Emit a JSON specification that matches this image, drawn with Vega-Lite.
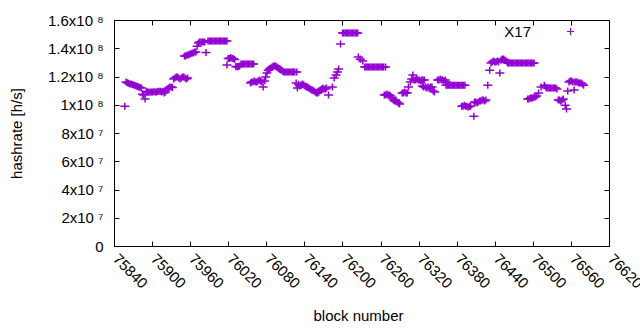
{
"$schema": "https://vega.github.io/schema/vega-lite/v6.json",
"width": 495, "height": 226,
"autosize": {"type": "none"},
"padding": {"left": 114, "top": 20, "right": 31, "bottom": 84},
"background": "white",
"config": {"view": {"stroke": "black", "strokeWidth": 1}, "font": "Liberation Sans"},
"data": {"values": [
{"block":75857,"hashrate":99000000},
{"block":75859,"hashrate":116100000},{"block":75861,"hashrate":115600000},{"block":75863,"hashrate":115200000},{"block":75865,"hashrate":114700000},{"block":75867,"hashrate":114700000},{"block":75869,"hashrate":114400000},{"block":75871,"hashrate":114000000},{"block":75873,"hashrate":113600000},{"block":75875,"hashrate":113300000},{"block":75877,"hashrate":112900000},{"block":75879,"hashrate":112600000},{"block":75881,"hashrate":112200000},{"block":75883,"hashrate":111900000},
{"block":75885,"hashrate":107500000},{"block":75887,"hashrate":106900000},{"block":75889,"hashrate":104100000},
{"block":75891,"hashrate":109500000},{"block":75893,"hashrate":109000000},{"block":75895,"hashrate":109000000},{"block":75897,"hashrate":108800000},{"block":75899,"hashrate":109000000},{"block":75901,"hashrate":109000000},{"block":75903,"hashrate":109200000},{"block":75905,"hashrate":109000000},{"block":75907,"hashrate":109000000},{"block":75909,"hashrate":109400000},{"block":75911,"hashrate":109500000},{"block":75913,"hashrate":109500000},{"block":75915,"hashrate":109000000},{"block":75917,"hashrate":109500000},{"block":75919,"hashrate":108300000},{"block":75921,"hashrate":109000000},
{"block":75924,"hashrate":111200000},{"block":75926,"hashrate":111900000},{"block":75928,"hashrate":112600000},{"block":75930,"hashrate":112600000},{"block":75932,"hashrate":112200000},
{"block":75934,"hashrate":118200000},{"block":75936,"hashrate":118900000},{"block":75938,"hashrate":119600000},{"block":75940,"hashrate":119600000},{"block":75942,"hashrate":118900000},{"block":75944,"hashrate":118200000},{"block":75946,"hashrate":118900000},{"block":75948,"hashrate":119600000},{"block":75950,"hashrate":119600000},{"block":75952,"hashrate":118900000},{"block":75954,"hashrate":118200000},{"block":75956,"hashrate":118900000},
{"block":75951,"hashrate":134500000},{"block":75953,"hashrate":134500000},{"block":75955,"hashrate":135200000},{"block":75957,"hashrate":135200000},{"block":75959,"hashrate":135900000},{"block":75961,"hashrate":135900000},{"block":75963,"hashrate":136600000},{"block":75965,"hashrate":136600000},{"block":75967,"hashrate":137300000},{"block":75969,"hashrate":137300000},
{"block":75971,"hashrate":141500000},
{"block":75973,"hashrate":143700000},{"block":75975,"hashrate":144400000},{"block":75977,"hashrate":144400000},{"block":75979,"hashrate":144400000},{"block":75981,"hashrate":144400000},{"block":75983,"hashrate":144400000},
{"block":75985,"hashrate":137000000},
{"block":75988,"hashrate":145100000},{"block":75990,"hashrate":145100000},{"block":75992,"hashrate":145100000},{"block":75994,"hashrate":145100000},{"block":75996,"hashrate":145100000},{"block":75998,"hashrate":145100000},{"block":76000,"hashrate":145100000},{"block":76002,"hashrate":145100000},{"block":76004,"hashrate":145100000},{"block":76006,"hashrate":145100000},{"block":76008,"hashrate":145100000},{"block":76010,"hashrate":145100000},{"block":76012,"hashrate":145100000},{"block":76014,"hashrate":145100000},{"block":76016,"hashrate":145100000},{"block":76018,"hashrate":145100000},
{"block":76018,"hashrate":128100000},{"block":76020,"hashrate":132700000},{"block":76022,"hashrate":132700000},{"block":76024,"hashrate":133400000},{"block":76026,"hashrate":132700000},{"block":76028,"hashrate":132700000},{"block":76030,"hashrate":132000000},
{"block":76032,"hashrate":127000000},{"block":76034,"hashrate":126700000},{"block":76036,"hashrate":127000000},{"block":76038,"hashrate":127400000},
{"block":76040,"hashrate":128800000},{"block":76042,"hashrate":128800000},{"block":76044,"hashrate":128800000},{"block":76046,"hashrate":128800000},{"block":76048,"hashrate":128800000},{"block":76050,"hashrate":128800000},{"block":76052,"hashrate":128800000},{"block":76054,"hashrate":128800000},{"block":76056,"hashrate":128800000},{"block":76058,"hashrate":128800000},{"block":76060,"hashrate":128800000},
{"block":76055,"hashrate":115400000},{"block":76057,"hashrate":116100000},{"block":76059,"hashrate":116100000},{"block":76061,"hashrate":116800000},{"block":76063,"hashrate":116100000},{"block":76065,"hashrate":116100000},{"block":76067,"hashrate":116800000},{"block":76069,"hashrate":117500000},{"block":76071,"hashrate":116800000},{"block":76073,"hashrate":116100000},{"block":76075,"hashrate":112600000},{"block":76077,"hashrate":116800000},{"block":76079,"hashrate":119600000},{"block":76081,"hashrate":122500000},{"block":76083,"hashrate":124500000},
{"block":76085,"hashrate":125300000},{"block":76087,"hashrate":126000000},{"block":76089,"hashrate":126700000},{"block":76091,"hashrate":127400000},{"block":76093,"hashrate":127400000},{"block":76095,"hashrate":127400000},{"block":76097,"hashrate":126700000},{"block":76099,"hashrate":126000000},{"block":76101,"hashrate":125300000},{"block":76103,"hashrate":124600000},{"block":76105,"hashrate":123900000},
{"block":76107,"hashrate":123200000},{"block":76109,"hashrate":123200000},{"block":76111,"hashrate":123200000},{"block":76113,"hashrate":123200000},{"block":76115,"hashrate":123200000},{"block":76117,"hashrate":123200000},{"block":76119,"hashrate":123200000},{"block":76121,"hashrate":123200000},{"block":76123,"hashrate":123200000},{"block":76125,"hashrate":123200000},{"block":76128,"hashrate":123200000},
{"block":76127,"hashrate":115400000},{"block":76129,"hashrate":111900000},{"block":76131,"hashrate":114500000},{"block":76133,"hashrate":113300000},{"block":76135,"hashrate":114000000},{"block":76137,"hashrate":114700000},{"block":76139,"hashrate":114000000},{"block":76141,"hashrate":113300000},{"block":76143,"hashrate":112600000},{"block":76145,"hashrate":112600000},{"block":76147,"hashrate":111900000},{"block":76149,"hashrate":111200000},{"block":76151,"hashrate":110500000},{"block":76153,"hashrate":110500000},{"block":76155,"hashrate":109800000},{"block":76157,"hashrate":109000000},{"block":76159,"hashrate":108300000},{"block":76161,"hashrate":108300000},{"block":76163,"hashrate":109000000},{"block":76165,"hashrate":110500000},{"block":76167,"hashrate":111200000},{"block":76169,"hashrate":111900000},{"block":76171,"hashrate":111200000},{"block":76173,"hashrate":111200000},{"block":76175,"hashrate":111900000},{"block":76178,"hashrate":106900000},{"block":76184,"hashrate":112600000},{"block":76187,"hashrate":118900000},{"block":76190,"hashrate":121000000},{"block":76192,"hashrate":123200000},{"block":76194,"hashrate":125300000},{"block":76197,"hashrate":143000000},
{"block":76200,"hashrate":150800000},{"block":76202,"hashrate":150800000},{"block":76204,"hashrate":150800000},{"block":76206,"hashrate":150800000},{"block":76208,"hashrate":150800000},{"block":76210,"hashrate":150800000},{"block":76212,"hashrate":150800000},{"block":76214,"hashrate":150800000},{"block":76216,"hashrate":150800000},{"block":76218,"hashrate":150800000},{"block":76220,"hashrate":150800000},{"block":76222,"hashrate":150800000},{"block":76224,"hashrate":150800000},
{"block":76225,"hashrate":133800000},{"block":76228,"hashrate":132300000},{"block":76232,"hashrate":130900000},
{"block":76235,"hashrate":126700000},{"block":76237,"hashrate":126700000},{"block":76239,"hashrate":126700000},{"block":76241,"hashrate":126700000},{"block":76243,"hashrate":126700000},{"block":76245,"hashrate":126700000},{"block":76247,"hashrate":126700000},{"block":76249,"hashrate":126700000},{"block":76251,"hashrate":126700000},{"block":76253,"hashrate":126700000},{"block":76255,"hashrate":126700000},{"block":76257,"hashrate":126700000},{"block":76259,"hashrate":126700000},{"block":76261,"hashrate":126700000},{"block":76263,"hashrate":126700000},{"block":76265,"hashrate":126700000},{"block":76268,"hashrate":126700000},
{"block":76266,"hashrate":106900000},{"block":76268,"hashrate":106900000},{"block":76270,"hashrate":107600000},{"block":76272,"hashrate":106900000},{"block":76274,"hashrate":106900000},{"block":76276,"hashrate":106200000},{"block":76278,"hashrate":104800000},{"block":76280,"hashrate":103400000},{"block":76282,"hashrate":102700000},{"block":76284,"hashrate":103400000},{"block":76286,"hashrate":102000000},{"block":76288,"hashrate":101300000},{"block":76290,"hashrate":100500000},{"block":76294,"hashrate":108300000},{"block":76296,"hashrate":108300000},{"block":76298,"hashrate":109000000},{"block":76300,"hashrate":108300000},{"block":76302,"hashrate":108300000},{"block":76304,"hashrate":112600000},{"block":76307,"hashrate":116100000},{"block":76309,"hashrate":118200000},{"block":76311,"hashrate":121000000},
{"block":76313,"hashrate":117500000},{"block":76315,"hashrate":117500000},{"block":76317,"hashrate":118200000},{"block":76319,"hashrate":117500000},{"block":76321,"hashrate":117500000},{"block":76323,"hashrate":116800000},{"block":76325,"hashrate":117500000},{"block":76327,"hashrate":117500000},{"block":76329,"hashrate":117500000},
{"block":76326,"hashrate":113300000},{"block":76328,"hashrate":112600000},{"block":76331,"hashrate":112600000},{"block":76333,"hashrate":111900000},{"block":76335,"hashrate":112600000},{"block":76337,"hashrate":111900000},{"block":76339,"hashrate":112600000},{"block":76341,"hashrate":112600000},{"block":76343,"hashrate":109800000},{"block":76345,"hashrate":109000000},
{"block":76350,"hashrate":117500000},{"block":76352,"hashrate":117500000},{"block":76354,"hashrate":118200000},{"block":76356,"hashrate":117500000},{"block":76358,"hashrate":117500000},{"block":76360,"hashrate":116800000},{"block":76362,"hashrate":117500000},{"block":76364,"hashrate":116100000},
{"block":76363,"hashrate":113800000},{"block":76365,"hashrate":113800000},{"block":76367,"hashrate":113800000},{"block":76369,"hashrate":113800000},{"block":76371,"hashrate":113800000},{"block":76373,"hashrate":113800000},{"block":76375,"hashrate":113800000},{"block":76377,"hashrate":113800000},{"block":76379,"hashrate":113800000},{"block":76381,"hashrate":113800000},{"block":76383,"hashrate":113800000},{"block":76385,"hashrate":113800000},{"block":76387,"hashrate":113800000},{"block":76389,"hashrate":113800000},{"block":76391,"hashrate":113800000},{"block":76393,"hashrate":113800000},
{"block":76388,"hashrate":99000000},{"block":76390,"hashrate":99000000},{"block":76392,"hashrate":99700000},{"block":76394,"hashrate":99000000},{"block":76396,"hashrate":99000000},{"block":76398,"hashrate":98300000},{"block":76400,"hashrate":99000000},{"block":76402,"hashrate":99000000},{"block":76407,"hashrate":91900000},
{"block":76408,"hashrate":101900000},{"block":76410,"hashrate":101900000},{"block":76412,"hashrate":101200000},{"block":76414,"hashrate":101900000},{"block":76416,"hashrate":102600000},{"block":76418,"hashrate":102600000},{"block":76420,"hashrate":103400000},{"block":76422,"hashrate":103400000},{"block":76424,"hashrate":102600000},{"block":76426,"hashrate":103400000},{"block":76429,"hashrate":113800000},{"block":76432,"hashrate":124500000},
{"block":76434,"hashrate":129500000},{"block":76436,"hashrate":130200000},{"block":76438,"hashrate":130900000},{"block":76440,"hashrate":130200000},{"block":76442,"hashrate":130200000},{"block":76444,"hashrate":130900000},{"block":76446,"hashrate":130200000},{"block":76448,"hashrate":122500000},{"block":76450,"hashrate":131600000},{"block":76452,"hashrate":132300000},{"block":76454,"hashrate":132300000},{"block":76456,"hashrate":131600000},{"block":76458,"hashrate":130900000},
{"block":76460,"hashrate":129500000},{"block":76462,"hashrate":129500000},{"block":76464,"hashrate":129500000},{"block":76466,"hashrate":129500000},{"block":76468,"hashrate":129500000},{"block":76470,"hashrate":129500000},{"block":76472,"hashrate":129500000},{"block":76474,"hashrate":129500000},{"block":76476,"hashrate":129500000},{"block":76478,"hashrate":129500000},{"block":76480,"hashrate":129500000},{"block":76482,"hashrate":129500000},{"block":76484,"hashrate":129500000},{"block":76486,"hashrate":129500000},{"block":76488,"hashrate":129500000},{"block":76490,"hashrate":129500000},{"block":76492,"hashrate":129500000},{"block":76494,"hashrate":129500000},{"block":76496,"hashrate":129500000},{"block":76498,"hashrate":129500000},{"block":76500,"hashrate":129500000},{"block":76502,"hashrate":129500000},
{"block":76492,"hashrate":104100000},{"block":76494,"hashrate":104100000},{"block":76496,"hashrate":104800000},{"block":76498,"hashrate":104800000},{"block":76500,"hashrate":104800000},{"block":76502,"hashrate":105500000},{"block":76504,"hashrate":105500000},{"block":76506,"hashrate":106200000},{"block":76509,"hashrate":108300000},{"block":76513,"hashrate":112600000},
{"block":76518,"hashrate":113800000},{"block":76520,"hashrate":112600000},{"block":76522,"hashrate":111900000},{"block":76524,"hashrate":111900000},{"block":76526,"hashrate":111900000},{"block":76528,"hashrate":111900000},{"block":76530,"hashrate":111900000},{"block":76532,"hashrate":111900000},{"block":76534,"hashrate":111900000},{"block":76536,"hashrate":111900000},{"block":76538,"hashrate":111200000},
{"block":76540,"hashrate":103400000},{"block":76542,"hashrate":103400000},{"block":76544,"hashrate":102700000},{"block":76546,"hashrate":103400000},{"block":76548,"hashrate":104100000},{"block":76551,"hashrate":99700000},{"block":76553,"hashrate":97000000},{"block":76555,"hashrate":109700000},
{"block":76557,"hashrate":116100000},{"block":76559,"hashrate":116800000},{"block":76561,"hashrate":116800000},{"block":76563,"hashrate":116100000},{"block":76565,"hashrate":110500000},{"block":76566,"hashrate":116100000},{"block":76568,"hashrate":116100000},{"block":76570,"hashrate":116100000},{"block":76572,"hashrate":115400000},{"block":76574,"hashrate":115400000},{"block":76576,"hashrate":115400000},{"block":76578,"hashrate":114700000},{"block":76580,"hashrate":113800000}
]},
"layer": [
{
"mark": {"type": "point", "shape": "M-1,0H1M0,-0.78V0.78", "filled": false, "size": 81, "strokeWidth": 1.5, "opacity": 1},
"encoding": {
"x": {"field": "block", "type": "quantitative",
"scale": {"domain": [75840, 76620], "nice": false, "zero": false},
"axis": {"orient": "bottom", "values": [75840,75900,75960,76020,76080,76140,76200,76260,76320,76380,76440,76500,76560,76620],
"grid": false, "domain": false, "tickSize": -5, "tickColor": "black", "labelAngle": 45, "labelAlign": "left", "labelBaseline": "top",
"labelPadding": 10, "labelOffset": 6, "labelFontSize": 15, "labelColor": "black", "labelFlush": false, "labelOverlap": false, "labelBound": false, "format": "d",
"title": "block number", "titleFontSize": 15, "titleFontWeight": "normal", "titleColor": "black", "titleX": 244, "titleY": 69, "titleBaseline": "middle", "titleAlign": "center"}},
"y": {"field": "hashrate", "type": "quantitative",
"scale": {"domain": [0, 160000000], "nice": false},
"axis": {"orient": "left", "values": [0,20000000,40000000,60000000,80000000,100000000,120000000,140000000,160000000],
"grid": false, "domain": false, "tickSize": -5, "tickColor": "black",
"labelExpr": "datum.value == 0 ? '0' : (datum.value >= 99999999 ? format(datum.value/1e8, '~g') + 'x10 ⁸' : format(datum.value/1e7, '~g') + 'x10 ⁷')",
"labelPadding": 16, "labelFontSize": 15, "labelColor": "black", "labelBaseline": "middle",
"title": "hashrate [h/s]", "titleFontSize": 15, "titleFontWeight": "normal", "titleColor": "black", "titleX": -98, "titleY": 113, "titleAngle": -90, "titleAlign": "center", "titleBaseline": "middle"}},
"color": {"datum": "X17", "scale": {"range": ["#9400D3"]},
"legend": {"orient": "none", "legendX": 449, "legendY": 4, "title": null, "padding": 0, "labelFontSize": 15, "labelColor": "black",
"labelAlign": "right", "labelOffset": -47, "symbolType": "M-1,0H1M0,-1V1", "symbolSize": 49, "symbolStrokeWidth": 1, "symbolStrokeColor": "#9400D3", "symbolFillColor": "transparent"}}
}
},
{
"mark": {"type": "point", "opacity": 0},
"encoding": {
"x": {"field": "block", "type": "quantitative",
"axis": {"orient": "top", "values": [75840,75900,75960,76020,76080,76140,76200,76260,76320,76380,76440,76500,76560,76620], "labels": false, "title": null, "grid": false, "domain": false, "tickSize": -5, "tickColor": "black"}},
"y": {"field": "hashrate", "type": "quantitative",
"axis": {"orient": "right", "values": [0,20000000,40000000,60000000,80000000,100000000,120000000,140000000,160000000], "labels": false, "title": null, "grid": false, "domain": false, "tickSize": -5, "tickColor": "black"}}
}
}
],
"resolve": {"axis": {"x": "independent", "y": "independent"}}
}
